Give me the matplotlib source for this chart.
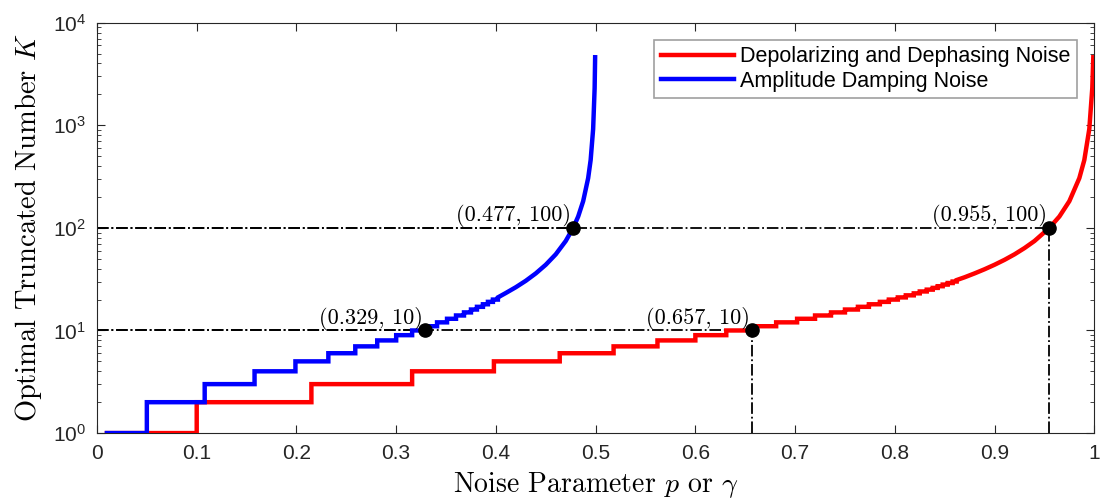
import matplotlib
matplotlib.use('Agg')
import matplotlib.pyplot as plt
from matplotlib.ticker import LogLocator, NullFormatter

# Data
# p where K steps up by one (K = 1, 2, 3, ...), then the smooth upper part
red_start = 0.01
red_breaks = [0.100, 0.215, 0.316, 0.398, 0.464, 0.518, 0.562, 0.600, 0.631, 0.658,
              0.681, 0.702, 0.720, 0.736, 0.750, 0.763, 0.774, 0.785, 0.794, 0.803,
              0.811, 0.819, 0.825, 0.832, 0.838, 0.843, 0.848, 0.853, 0.858, 0.862]
red_tail_p = [0.87, 0.88, 0.89, 0.90, 0.91, 0.92, 0.93, 0.94, 0.955, 0.965,
              0.975, 0.985, 0.99, 0.995, 0.998, 0.999]
red_tail_k = [33, 36, 39.5, 43.7, 48.8, 55.2, 63.5, 74.4, 100, 129,
              182, 305, 458, 919, 2300, 4600]

blue_start = 0.01
blue_breaks = [0.050, 0.108, 0.158, 0.199, 0.232, 0.259, 0.281, 0.300, 0.316, 0.329,
               0.341, 0.351, 0.360, 0.368, 0.375, 0.381, 0.387, 0.392, 0.397, 0.402]
blue_tail_p = [0.41, 0.42, 0.43, 0.44, 0.45, 0.46, 0.47, 0.4775, 0.4825, 0.4875,
               0.4925, 0.495, 0.4975, 0.499, 0.4995]
blue_tail_k = [23.2, 26.4, 30.5, 36, 43.7, 55.2, 74.4, 100, 129, 182,
               305, 458, 919, 2300, 4600]

marked_p = [0.329, 0.477, 0.657, 0.955]
marked_k = [10, 100, 10, 100]
marked_text = ['(0.329, 10)', '(0.477, 100)', '(0.657, 10)', '(0.955, 100)']


def staircase(start, breaks, tail_p, tail_k):
    xs, ys = [start], [1]
    for k, b in enumerate(breaks, start=1):
        xs += [b, b]
        ys += [k, k + 1]
    return xs + tail_p, ys + tail_k


plt.rcParams['font.family'] = ['Liberation Sans', 'DejaVu Sans']
plt.rcParams['mathtext.fontset'] = 'cm'

fig = plt.figure(figsize=(11.02, 5.03), dpi=100)
ax = fig.add_axes([0.088, 0.139, 0.905, 0.816])

rx, ry = staircase(red_start, red_breaks, red_tail_p, red_tail_k)
bx, by = staircase(blue_start, blue_breaks, blue_tail_p, blue_tail_k)
ax.plot(rx, ry, color='#ff0000', lw=3.2, solid_joinstyle='miter',
        label='Depolarizing and Dephasing Noise', zorder=3)
ax.plot(bx, by, color='#0000ff', lw=3.2, solid_joinstyle='miter',
        label='Amplitude Damping Noise', zorder=4)

# guide lines
for p, k in zip(marked_p, marked_k):
    ax.plot([0, p], [k, k], color='black', ls='-.', lw=1.3, zorder=2)
for p, k in zip(marked_p[2:], marked_k[2:]):
    ax.plot([p, p], [1, k], color='black', ls='-.', lw=1.3, zorder=2)

ax.plot(marked_p, marked_k, 'o', color='black', ms=9.5, zorder=5)
for p, k, t in zip(marked_p, marked_k, marked_text):
    ax.text(p - 0.002, k * 1.02, t, ha='right', va='bottom',
            fontsize=16, family='cmr10', zorder=6)

ax.set_yscale('log')
ax.set_xlim(0, 1)
ax.set_ylim(1, 1e4)
ax.set_xticks([i / 10 for i in range(11)])
ax.set_xticklabels(['0', '0.1', '0.2', '0.3', '0.4', '0.5', '0.6', '0.7', '0.8', '0.9', '1'])
ax.yaxis.set_major_locator(LogLocator(base=10, numticks=10))
ax.yaxis.set_minor_locator(LogLocator(base=10, subs=range(2, 10), numticks=10))
ax.yaxis.set_minor_formatter(NullFormatter())

ax.tick_params(axis='both', which='both', direction='in', top=True, right=True,
               labelsize=15, colors='#262626')
ax.tick_params(axis='both', which='major', length=6, width=0.8, pad=8)
ax.tick_params(axis='both', which='minor', length=3, width=0.6)
for s in ax.spines.values():
    s.set_color('#262626')
    s.set_linewidth(0.8)

ax.set_xlabel(r'Noise Parameter $p$ or $\gamma$', fontsize=20, family='cmr10', labelpad=5)
ax.set_ylabel(r'Optimal Truncated Number $K$', fontsize=20.5, family='cmr10', labelpad=6)

leg = ax.legend(loc='upper right', fontsize=15.5, handlelength=3.4, handletextpad=0.3,
                borderaxespad=0.8, fancybox=False, framealpha=1, borderpad=0.3,
                labelspacing=0.15)
leg.get_frame().set_edgecolor('#a0a0a0')
leg.get_frame().set_linewidth(1.2)

fig.savefig('out.png', dpi=100)
